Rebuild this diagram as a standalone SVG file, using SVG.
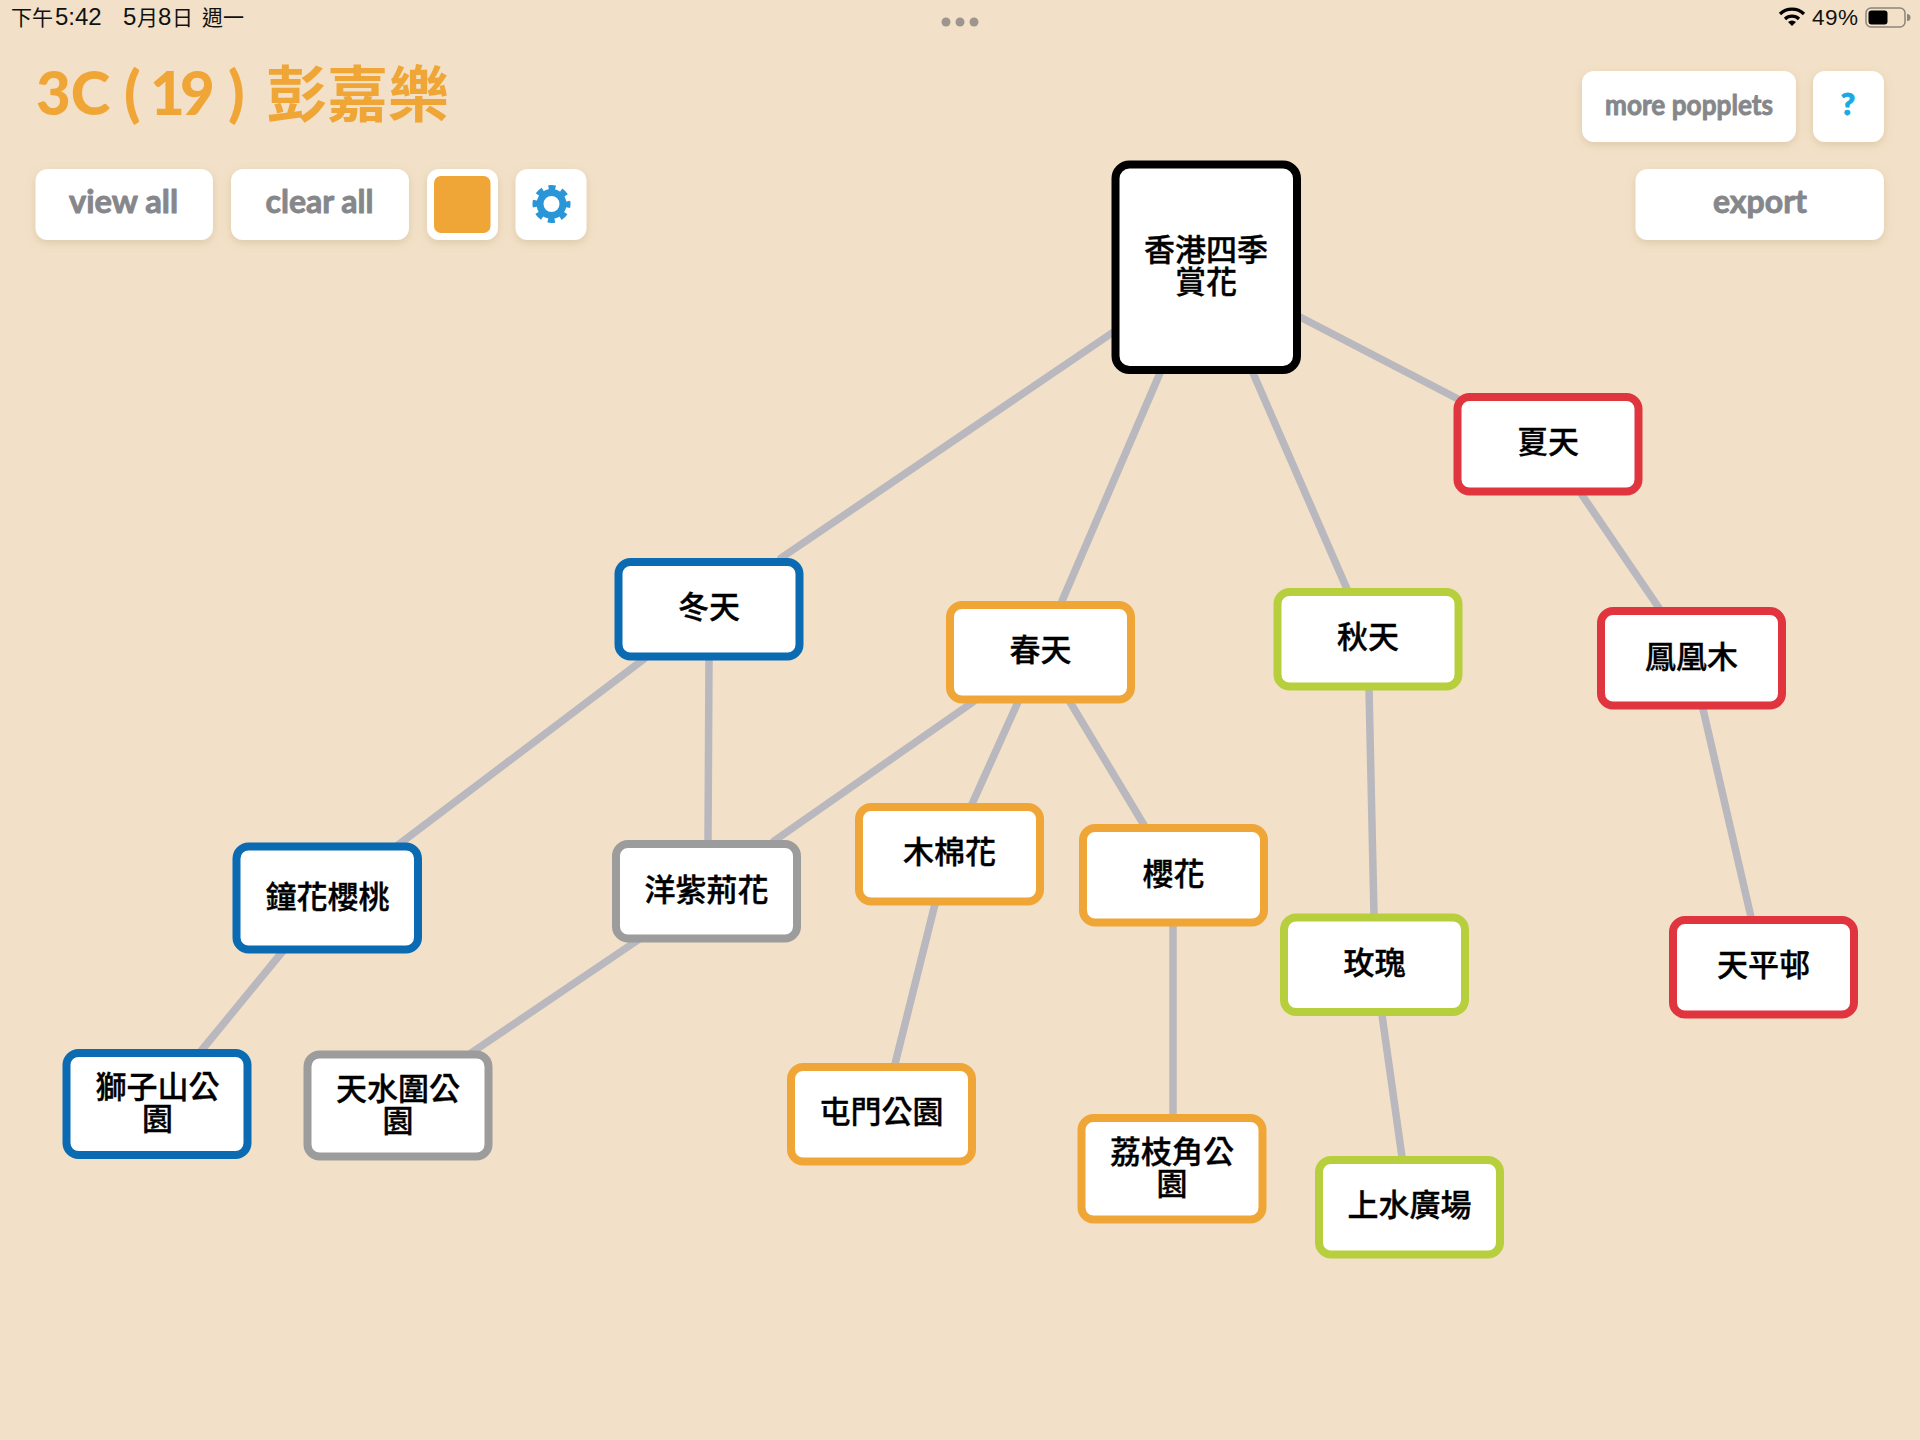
<svg xmlns="http://www.w3.org/2000/svg" width="1920" height="1440" viewBox="0 0 1920 1440">
<style>
text{font-family:"Noto Sans CJK TC","Noto Sans CJK JP",sans-serif}
.box{fill:#fff;stroke-width:8}
.black{stroke:#000}.orange{stroke:#f0a636}.blue{stroke:#0a6bb3}.red{stroke:#e0353f}.green{stroke:#b7cf3d}.gray{stroke:#9c9c9c}
.lbl{font-size:31px;font-weight:500;fill:#000;stroke:#000;stroke-width:.35px;text-anchor:middle}
.btn{fill:#fff;filter:url(#sh)}
.btxt{font-family:Lato,"Liberation Sans",sans-serif;font-size:32px;font-weight:700;fill:#86878b;stroke:#86878b;stroke-width:.9px;stroke-linejoin:round;text-anchor:middle}
.st{font-size:21px;fill:#111}
.sl{font-size:24px;font-family:"Liberation Sans",sans-serif;fill:#111}
.tl{font-family:Lato,"Liberation Sans",sans-serif;font-size:60px;font-weight:900}
#connectors line{stroke:#b9b8be;stroke-width:7.5;stroke-linecap:round}
</style>
<defs><filter id="sh" x="-20%" y="-20%" width="140%" height="150%"><feDropShadow dx="0" dy="3" stdDeviation="4" flood-color="#a08050" flood-opacity="0.25"/></filter></defs>
<rect width="1920" height="1440" fill="#f2e1c8"/>
<g id="statusbar">
<text y="25"><tspan class="st" x="11">下午</tspan><tspan class="sl" x="55">5:42</tspan></text>
<text y="25"><tspan class="sl" x="123">5</tspan><tspan class="st" x="137">月</tspan><tspan class="sl" x="158">8</tspan><tspan class="st" x="172">日</tspan></text>
<text class="st" x="202" y="25">週一</text>
<circle cx="946" cy="22" r="4.5" fill="#9c968f"/><circle cx="960" cy="22" r="4.5" fill="#9c968f"/><circle cx="974" cy="22" r="4.5" fill="#9c968f"/>
<path d="M1780 14 A17 17 0 0 1 1804 14 M1785 19 A10 10 0 0 1 1799 19" fill="none" stroke="#000" stroke-width="3.2"/>
<path d="M1788 22 A6 6 0 0 1 1796 22 L1792 26Z" fill="#000"/>
<text x="1812" y="25" style="font-size:22.500px;letter-spacing:.5px;font-family:'Liberation Sans',sans-serif;fill:#111">49%</text>
<rect x="1866" y="8" width="39" height="19" rx="5" fill="none" stroke="#8c857a" stroke-width="1.5"/>
<rect x="1868.5" y="10.5" width="19" height="14" rx="3" fill="#000"/>
<path d="M1907 14v7a3.500 3.500 0 0 0 0-7z" fill="#8c857a"/>
</g>
<g id="title">
<text y="115" fill="#f0a636"><tspan class="tl" x="36">3C</tspan><tspan class="tl" x="124">(</tspan><tspan class="tl" x="150">1</tspan><tspan class="tl" x="180">9</tspan><tspan class="tl" x="228">)</tspan><tspan x="266" y="117" style="font-size:61px;font-weight:700">彭嘉樂</tspan></text>
</g>
<g id="toolbar">
<g id="btn-view"><rect class="btn" x="35.500" y="169" width="177.500" height="71" rx="12"/><text class="btxt" x="123.500" y="213" textLength="109" lengthAdjust="spacingAndGlyphs">view all</text></g>
<g id="btn-clear"><rect class="btn" x="231" y="169" width="178" height="71" rx="12"/><text class="btxt" x="319.500" y="213" textLength="108" lengthAdjust="spacingAndGlyphs">clear all</text></g>
<g id="btn-color"><rect class="btn" x="427" y="169" width="71" height="71" rx="12"/><rect x="434" y="176" width="56.500" height="57" rx="7" fill="#f0a636"/></g>
<g id="btn-gear"><rect class="btn" x="515.500" y="169" width="71" height="71" rx="12"/>
<circle cx="551.500" cy="204" r="11.500" fill="none" stroke="#2a96d8" stroke-width="7"/>
<circle cx="551.500" cy="204" r="16.500" fill="none" stroke="#2a96d8" stroke-width="5" stroke-dasharray="7 5.960" stroke-dashoffset="3.500"/></g>
<g id="btn-more"><rect class="btn" x="1582" y="71" width="214" height="71" rx="12"/><text class="btxt" x="1689" y="115" textLength="168" lengthAdjust="spacingAndGlyphs" style="font-size:29px">more popplets</text></g>
<g id="btn-help"><rect class="btn" x="1813" y="71" width="71" height="71" rx="12"/><text class="btxt" x="1848" y="115" style="fill:#1ba9e0;stroke:#1ba9e0;font-size:31px;font-weight:900">?</text></g>
<g id="btn-export"><rect class="btn" x="1635.500" y="169" width="248.500" height="71" rx="12"/><text class="btxt" x="1760" y="213">export</text></g>
</g>
<g id="connectors">
<line x1="1112" y1="333" x2="781" y2="558"/>
<line x1="1160" y1="373" x2="1062" y2="601"/>
<line x1="1253" y1="373" x2="1347" y2="589"/>
<line x1="1300" y1="317" x2="1458" y2="399"/>
<line x1="1582" y1="495" x2="1659" y2="608"/>
<line x1="1703" y1="709" x2="1751" y2="917"/>
<line x1="1369" y1="688" x2="1374" y2="915"/>
<line x1="1382" y1="1015" x2="1402" y2="1157"/>
<line x1="973" y1="702" x2="774" y2="841"/>
<line x1="1018" y1="702" x2="972" y2="804"/>
<line x1="1070" y1="702" x2="1144" y2="825"/>
<line x1="935" y1="904" x2="895" y2="1064"/>
<line x1="1173" y1="926" x2="1173" y2="1115"/>
<line x1="644" y1="659" x2="398" y2="845"/>
<line x1="709" y1="660" x2="708" y2="841"/>
<line x1="283" y1="951" x2="201" y2="1051"/>
<line x1="638" y1="940" x2="471" y2="1053"/>
</g>
<g id="node-root"><rect class="box black" x="1115.500" y="164.500" width="181.500" height="205.500" rx="14"/><text class="lbl" x="1206" y="260.500">香港四季</text><text class="lbl" x="1206" y="292.500">賞花</text></g>
<g id="node-winter"><rect class="box blue" x="618.500" y="562" width="181" height="94.500" rx="12"/><text class="lbl" x="709" y="617.500">冬天</text></g>
<g id="node-spring"><rect class="box orange" x="950" y="605" width="181" height="94.500" rx="12"/><text class="lbl" x="1040.500" y="661">春天</text></g>
<g id="node-autumn"><rect class="box green" x="1277.500" y="592" width="181" height="94.500" rx="12"/><text class="lbl" x="1368" y="647.500">秋天</text></g>
<g id="node-summer"><rect class="box red" x="1457.500" y="397" width="181" height="94.500" rx="12"/><text class="lbl" x="1548" y="452.500">夏天</text></g>
<g id="node-phoenix"><rect class="box red" x="1601" y="611" width="181" height="94.500" rx="12"/><text class="lbl" x="1691.500" y="667.500">鳳凰木</text></g>
<g id="node-bauhinia"><rect class="box gray" x="616" y="844" width="181" height="94.500" rx="12"/><text class="lbl" x="706.500" y="900.500">洋紫荊花</text></g>
<g id="node-kapok"><rect class="box orange" x="859" y="807" width="181" height="94.500" rx="12"/><text class="lbl" x="949.500" y="862.500">木棉花</text></g>
<g id="node-sakura"><rect class="box orange" x="1083" y="828" width="181" height="94.500" rx="12"/><text class="lbl" x="1173.500" y="884.500">櫻花</text></g>
<g id="node-rose"><rect class="box green" x="1284" y="917.500" width="181" height="94.500" rx="12"/><text class="lbl" x="1374.500" y="973.500">玫瑰</text></g>
<g id="node-tinping"><rect class="box red" x="1673" y="920" width="181" height="94.500" rx="12"/><text class="lbl" x="1763.500" y="975.500">天平邨</text></g>
<g id="node-tuenmun"><rect class="box orange" x="791" y="1067" width="181" height="94.500" rx="12"/><text class="lbl" x="881.500" y="1122.500">屯門公園</text></g>
<g id="node-laichikok"><rect class="box orange" x="1081.500" y="1118" width="181" height="101.500" rx="12"/><text class="lbl" x="1172" y="1162.500">荔枝角公</text><text class="lbl" x="1172" y="1194.500">園</text></g>
<g id="node-sheungshui"><rect class="box green" x="1319" y="1160" width="181" height="94.500" rx="12"/><text class="lbl" x="1409.500" y="1215.500">上水廣場</text></g>
<g id="node-sakuracherry"><rect class="box blue" x="236.500" y="846.500" width="181.500" height="103" rx="12"/><text class="lbl" x="327.500" y="907.500">鐘花櫻桃</text></g>
<g id="node-lionrock"><rect class="box blue" x="66.500" y="1053" width="181" height="102" rx="12"/><text class="lbl" x="157.500" y="1098">獅子山公</text><text class="lbl" x="157.500" y="1130">園</text></g>
<g id="node-tinshuiwai"><rect class="box gray" x="307.500" y="1054.500" width="181" height="102" rx="12"/><text class="lbl" x="398" y="1100">天水圍公</text><text class="lbl" x="398" y="1132">園</text></g>
</svg>
